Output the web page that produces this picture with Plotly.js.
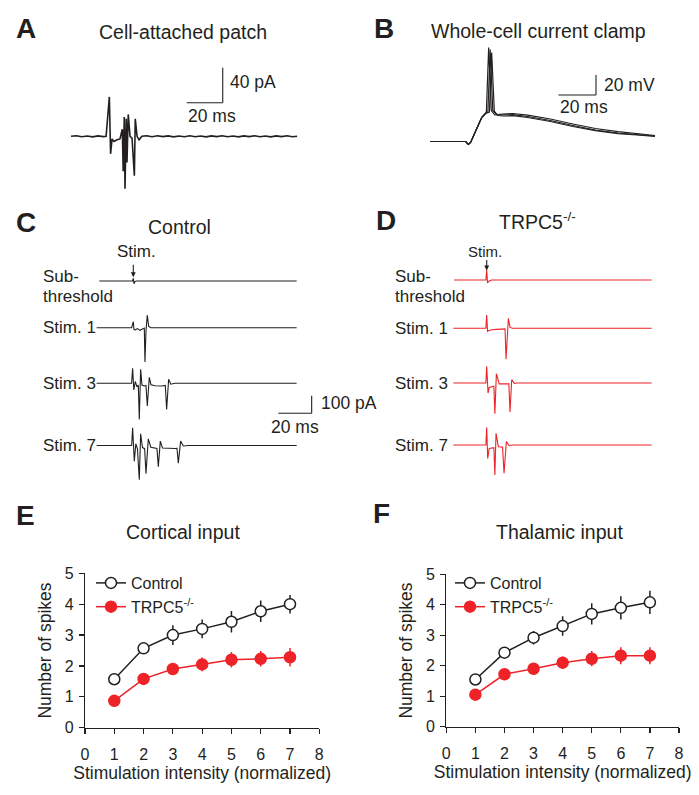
<!DOCTYPE html>
<html>
<head>
<meta charset="utf-8">
<script src="https://cdn.plot.ly/plotly-3.0.1.min.js"></script>
<style>
html, body { margin: 0; padding: 0; background: #fff; }
#plot { width: 699px; height: 795px; }
</style>
</head>
<body>
<div id="plot"></div>
<script>
// ---- A: cell-attached patch (ms, pA) ----
var aT = [0, 3, 6, 9, 12, 15, 18, 19.5, 21.3, 22.0, 22.8, 23.9, 25.6, 27.2, 28.5, 29.0, 29.6, 30.0, 30.7, 31.1, 31.8, 32.8, 33.9, 35.2, 35.7, 36.7, 37.8, 39.4,
          42, 45, 48, 51, 54, 57, 60, 63, 66, 69, 72, 75, 78, 81, 84, 87, 90, 93, 96, 99, 102, 105, 108, 111, 114, 117, 120, 123, 125.6];
var aI = [0, 0.6, -0.5, 0.4, -0.6, 0.5, -0.4, 0, 45, -20, -3, -6, -4, -3, 8, -40, 22, -60, 20, -30, 25, 0, -2, -45, 20, 0, -4, 0,
          0.6, -0.5, 0.7, -0.4, 0.5, -0.6, 0.4, -0.5, 0.6, -0.5, 0.4, -0.6, 0.5, -0.4, 0.6, -0.5, 0.4, -0.6, 0.5, -0.4, 0.6, -0.5, 0.4, -0.6, 0.5, -0.4, 0.6, -0.5, 0];

// ---- B: whole-cell current clamp, three overlaid sweeps (ms, mV) ----
var b1T = [0, 19, 20.4, 21.6, 23, 24.8, 27.5, 29.5, 30.0, 31.2, 32.6, 34.5, 38, 44, 52, 64, 76, 88, 100, 110, 119.7];
var b1V = [0, 0, -3, -1, 5, 13, 24, 28, 30, 94, 31, 26.5, 26.5, 26.8, 25, 21, 16, 11.5, 8.5, 7, 5.5];
var b2T = [0, 19, 20.4, 21.6, 23, 24.8, 27.5, 29.5, 30.8, 32.0, 33.4, 35.3, 38, 44, 52, 64, 76, 88, 100, 110, 119.7];
var b2V = [0, 0, -3, -1, 5, 13, 24, 28, 29.5, 92, 31, 27, 27.5, 28, 26.3, 22.5, 17.5, 13, 9.8, 8, 6];
var b3T = [0, 19, 20.4, 21.6, 23, 24.8, 27.5, 29.5, 31.6, 32.8, 34.2, 36.1, 39, 44, 52, 64, 76, 88, 100, 110, 119.7];
var b3V = [0, 0, -3, -1, 5, 13, 24, 28, 29.5, 89, 30.5, 26, 25.5, 25.8, 24, 20, 15, 10.8, 7.8, 6.5, 5];

// ---- C: control sweeps (ms from stimulus, pA) ----
var cSubT = [-20.4, -0.5, 0, 0.4, 1, 2, 98];
var cSubI = [0, 0, 15, -15, -3, 0, 0];
var c1T = [-22, -1, 0, 0.4, 1.2, 2.5, 4, 5.5, 6.6, 7.0, 7.6, 8.4, 9.2, 10.5, 98];
var c1I = [0, 0, 34, -10, -12, -5, -15, -6, -2, -195, -20, 72, 8, 0, 0];
var c3T = [-22, -1, -0.4, 0.3, 1.2, 2.2, 3.0, 3.6, 4.4, 5.2, 6.5, 7.6, 8.4, 9.6, 10.6, 13, 17, 19.2, 20, 21.2, 22.5, 25, 98];
var c3I = [0, 0, 85, -38, 10, -20, -10, -205, 80, -10, -15, -12, -129, 34, -8, -14, -15, -12, -148, 23, -5, 0, 0];
var c7T = [-22, -1, -0.4, 0.6, 1.5, 2.5, 3.6, 4.4, 5.5, 6.8, 7.6, 9, 10.5, 13, 14.2, 15, 16.2, 17.5, 21, 25, 26.2, 27, 28.4, 30, 33, 98];
var c7I = [0, 0, 100, -89, 10, -20, -195, 66, -12, -18, -160, 38, -10, -17, -17, -120, 25, -14, -17, -17, -16, -100, 25, -3, 0, 0];

// ---- D: TRPC5-/- sweeps ----
var dSubT = [-19.6, -0.5, 0, 0.5, 1.5, 3, 99];
var dSubI = [0, 0, 57, -17, -5, 0, 0];
var d1T = [-20, -0.5, 0, 0.5, 1.5, 3, 6, 9, 11.0, 11.6, 13.0, 14, 15.5, 99];
var d1I = [0, 0, 76, -17, -12, -8, -6, -5, -3, -176, 57, 5, 0, 0];
var d3T = [-20, -0.5, 0, 0.8, 1.5, 3.5, 4.3, 4.9, 5.8, 7.5, 12, 13.3, 14, 15, 16.5, 18, 99];
var d3I = [0, 0, 95, -57, -25, -20, -18, -174, 53, -5, -8, -5, -165, 19, -2, 0, 0];
var d7T = [-20, -0.5, 0, 0.6, 1.5, 3.5, 4.3, 4.9, 5.6, 7, 9.5, 10.4, 11.8, 13.5, 16, 99];
var d7I = [0, 0, 100, -76, -20, -18, -15, -170, 66, -10, -12, -160, 19, -3, 0, 0];

// ---- E, F: spike counts ----
var intensity = [1, 2, 3, 4, 5, 6, 7];
var eCtrl = [1.57, 2.57, 3.0, 3.2, 3.43, 3.77, 4.0];
var eCtrlErr = [0.1, 0.12, 0.32, 0.3, 0.35, 0.35, 0.3];
var eKo = [0.87, 1.58, 1.9, 2.05, 2.2, 2.23, 2.28];
var eKoErr = [0.06, 0.1, 0.15, 0.22, 0.25, 0.25, 0.3];
var fCtrl = [1.55, 2.43, 2.92, 3.3, 3.7, 3.9, 4.08];
var fCtrlErr = [0.1, 0.15, 0.22, 0.32, 0.35, 0.38, 0.38];
var fKo = [1.05, 1.72, 1.9, 2.1, 2.23, 2.33, 2.33];
var fKoErr = [0.05, 0.1, 0.15, 0.2, 0.25, 0.28, 0.28];

var W = 699, H = 795;
var FONT = 'Liberation Sans, Arial, sans-serif';
var INK = '#231f20';
var RED = '#ee2328';

function xd(l, r) { return [l / W, r / W]; }
function yd(top, bottom) { return [1 - bottom / H, 1 - top / H]; }
// hidden axis: pixel domain plus origin/scale in px per unit
function hx(l, r, origin, scale, anchor) {
  return {domain: xd(l, r), range: [(l - origin) / scale, (r - origin) / scale], anchor: anchor, visible: false, fixedrange: true};
}
function hy(top, bottom, base, scale, anchor) {
  return {domain: yd(top, bottom), range: [(base - bottom) / scale, (base - top) / scale], anchor: anchor, visible: false, fixedrange: true};
}

function sweep(t, v, xa, ya, color, w) {
  return {x: t, y: v, xaxis: xa, yaxis: ya, type: 'scatter', mode: 'lines',
          line: {color: color, width: w || 1.1}, showlegend: false, hoverinfo: 'skip'};
}

var data = [
  sweep(aT, aI, 'x', 'y', INK, 1.6),
  sweep(b1T, b1V, 'x2', 'y2', INK, 1.2),
  sweep(b2T, b2V, 'x2', 'y2', INK, 1.2),
  sweep(b3T, b3V, 'x2', 'y2', INK, 1.2),
  sweep(cSubT, cSubI, 'x3', 'y3', INK),
  sweep(c1T, c1I, 'x3', 'y4', INK),
  sweep(c3T, c3I, 'x3', 'y5', INK),
  sweep(c7T, c7I, 'x3', 'y6', INK),
  sweep(dSubT, dSubI, 'x4', 'y7', RED),
  sweep(d1T, d1I, 'x4', 'y8', RED),
  sweep(d3T, d3I, 'x4', 'y9', RED),
  sweep(d7T, d7I, 'x4', 'y10', RED)
];

function group(y, err, xa, ya, name, filled, legend) {
  return {
    x: intensity, y: y, xaxis: xa, yaxis: ya, name: name, legend: legend,
    type: 'scatter', mode: 'lines+markers', cliponaxis: false,
    line: {color: filled ? RED : INK, width: 1.5},
    marker: {size: 11, color: filled ? RED : '#fff', line: {color: filled ? RED : INK, width: 1.5}},
    error_y: {type: 'data', array: err, visible: true, color: filled ? RED : INK, thickness: 1.5, width: 0}
  };
}
data.push(group(eCtrl, eCtrlErr, 'x5', 'y11', 'Control', false, 'legend'));
data.push(group(eKo, eKoErr, 'x5', 'y11', 'TRPC5<sup>-/-</sup>', true, 'legend'));
data.push(group(fCtrl, fCtrlErr, 'x6', 'y12', 'Control', false, 'legend2'));
data.push(group(fKo, fKoErr, 'x6', 'y12', 'TRPC5<sup>-/-</sup>', true, 'legend2'));

function countX(l, r, anchor) {
  return {domain: xd(l, r), range: [0, 8], anchor: anchor, dtick: 1, showgrid: false, zeroline: false,
          showline: true, linecolor: INK, linewidth: 1.2, ticks: 'outside', ticklen: 5, tickwidth: 1.2, tickcolor: INK,
          tickfont: {size: 16, color: INK}, ticklabelstandoff: 7, fixedrange: true,
          title: {text: 'Stimulation intensity (normalized)', font: {size: 17.5, color: INK}, standoff: 2}};
}
function countY(top, bottom, anchor) {
  return {domain: yd(top, bottom), range: [0, 5], anchor: anchor, dtick: 1, showgrid: false, zeroline: false,
          showline: true, linecolor: INK, linewidth: 1.2, ticks: 'outside', ticklen: 5, tickwidth: 1.2, tickcolor: INK,
          tickfont: {size: 16, color: INK}, ticklabelstandoff: 2, fixedrange: true,
          title: {text: 'Number of spikes', font: {size: 17.5, color: INK}, standoff: 8}};
}

function txt(s, x, y, size, anchor, bold) {
  return {text: bold ? '<b>' + s + '</b>' : s, x: x / W, y: 1 - y / H, xref: 'paper', yref: 'paper',
          showarrow: false, xanchor: anchor || 'center', yanchor: 'middle',
          font: {family: FONT, size: size, color: INK}};
}
function stimArrow(xa, headY, len) {
  return {text: '', x: 0, y: 1 - headY / H, xref: xa, yref: 'paper', showarrow: true,
          ax: 0, ay: -len, arrowhead: 2, arrowsize: 0.9, arrowwidth: 1.1, arrowcolor: INK};
}

var annotations = [
  txt('A', 25.7, 28.3, 28, 'center', true),
  txt('B', 384, 28.3, 28, 'center', true),
  txt('C', 25.7, 222.7, 28, 'center', true),
  txt('D', 385.7, 220.7, 28, 'center', true),
  txt('E', 25, 515, 28, 'center', true),
  txt('F', 381.7, 513.3, 28, 'center', true),
  txt('Cell-attached patch', 182.7, 32.3, 19.5),
  txt('Whole-cell current clamp', 538.3, 30.7, 19.5),
  txt('Control', 179.3, 226.7, 19.5),
  txt('TRPC5<sup>-/-</sup>', 537.3, 221, 19.5),
  txt('Cortical input', 183, 531.7, 19.5),
  txt('Thalamic input', 559, 531.7, 19.5),
  txt('40 pA', 228, 81.7, 17.5, 'left'),
  txt('20 ms', 186, 116, 17.5, 'left'),
  txt('20 mV', 602, 85, 17.5, 'left'),
  txt('20 ms', 557.5, 107.3, 17.5, 'left'),
  txt('100 pA', 319, 403.3, 17.5, 'left'),
  txt('20 ms', 295, 427.3, 17.5, 'center'),
  txt('Stim.', 136.7, 252, 17),
  txt('Stim.', 485, 252, 15),
  stimArrow('x3', 277.3, 14),
  stimArrow('x4', 270.5, 12),
  txt('Sub-', 41, 276.7, 17, 'left'),
  txt('threshold', 41, 296.7, 17, 'left'),
  txt('Stim. 1', 41, 327.7, 17, 'left'),
  txt('Stim. 3', 41, 383.3, 17, 'left'),
  txt('Stim. 7', 41, 445.5, 17, 'left'),
  txt('Sub-', 392.7, 276.7, 17, 'left'),
  txt('threshold', 392.7, 296.7, 17, 'left'),
  txt('Stim. 1', 392.7, 328.3, 17, 'left'),
  txt('Stim. 3', 392.7, 383, 17, 'left'),
  txt('Stim. 7', 392.7, 445, 17, 'left')
];

// scale bars, in each panel's data units
function bar(xa, ya, x0, y0, x1, y1) {
  return {type: 'line', xref: xa, yref: ya, x0: x0, y0: y0, x1: x1, y1: y1, line: {color: INK, width: 1.1}};
}
var shapes = [
  bar('x', 'y', 64.3, 38.4, 84.3, 38.4), bar('x', 'y', 84.3, 38.4, 84.3, 78.4),
  bar('x2', 'y2', 68.3, 46.5, 88.3, 46.5), bar('x2', 'y2', 88.3, 46.5, 88.3, 66.5),
  bar('x3', 'y5', 87, -170.5, 107, -170.5), bar('x3', 'y5', 107, -170.5, 107, -70.5)
];

var layout = {
  width: W, height: H,
  margin: {l: 0, r: 0, t: 0, b: 0},
  paper_bgcolor: '#fff', plot_bgcolor: 'rgba(0,0,0,0)',
  font: {family: FONT, color: INK},
  showlegend: true,
  xaxis: hx(60, 310, 71, 1.8, 'y'),
  yaxis: hy(55, 200, 136.3, 0.875, 'x'),
  xaxis2: hx(420, 670, 430, 1.88, 'y2'),
  yaxis2: hy(35, 165, 141.5, 1.0, 'x2'),
  xaxis3: hx(30, 345, 133.3, 1.667, 'y3'),
  yaxis3: hy(231, 331, 281, 0.176, 'x3'),
  yaxis4: hy(277.7, 377.7, 327.7, 0.176, 'x3'),
  yaxis5: hy(333.3, 433.3, 383.3, 0.176, 'x3'),
  yaxis6: hy(395.5, 495.5, 445.5, 0.176, 'x3'),
  xaxis4: hx(400, 690, 486.7, 1.667, 'y7'),
  yaxis7: hy(230, 330, 280, 0.176, 'x4'),
  yaxis8: hy(278.3, 378.3, 328.3, 0.176, 'x4'),
  yaxis9: hy(333, 433, 383, 0.176, 'x4'),
  yaxis10: hy(395, 495, 445, 0.176, 'x4'),
  xaxis5: countX(85, 319.3, 'y11'),
  yaxis11: countY(573.3, 727.7, 'x5'),
  xaxis6: countX(446.3, 679, 'y12'),
  yaxis12: countY(574.3, 726.7, 'x6'),
  legend: {x: 91 / W, y: 1 - 566 / H, xanchor: 'left', yanchor: 'top', font: {size: 16, color: INK},
           bgcolor: 'rgba(0,0,0,0)', borderwidth: 0, tracegroupgap: 0},
  legend2: {x: 450 / W, y: 1 - 566 / H, xanchor: 'left', yanchor: 'top', font: {size: 16, color: INK},
            bgcolor: 'rgba(0,0,0,0)', borderwidth: 0, tracegroupgap: 0},
  annotations: annotations,
  shapes: shapes
};

Plotly.newPlot('plot', data, layout, {staticPlot: true, displayModeBar: false});
</script>
</body>
</html>
